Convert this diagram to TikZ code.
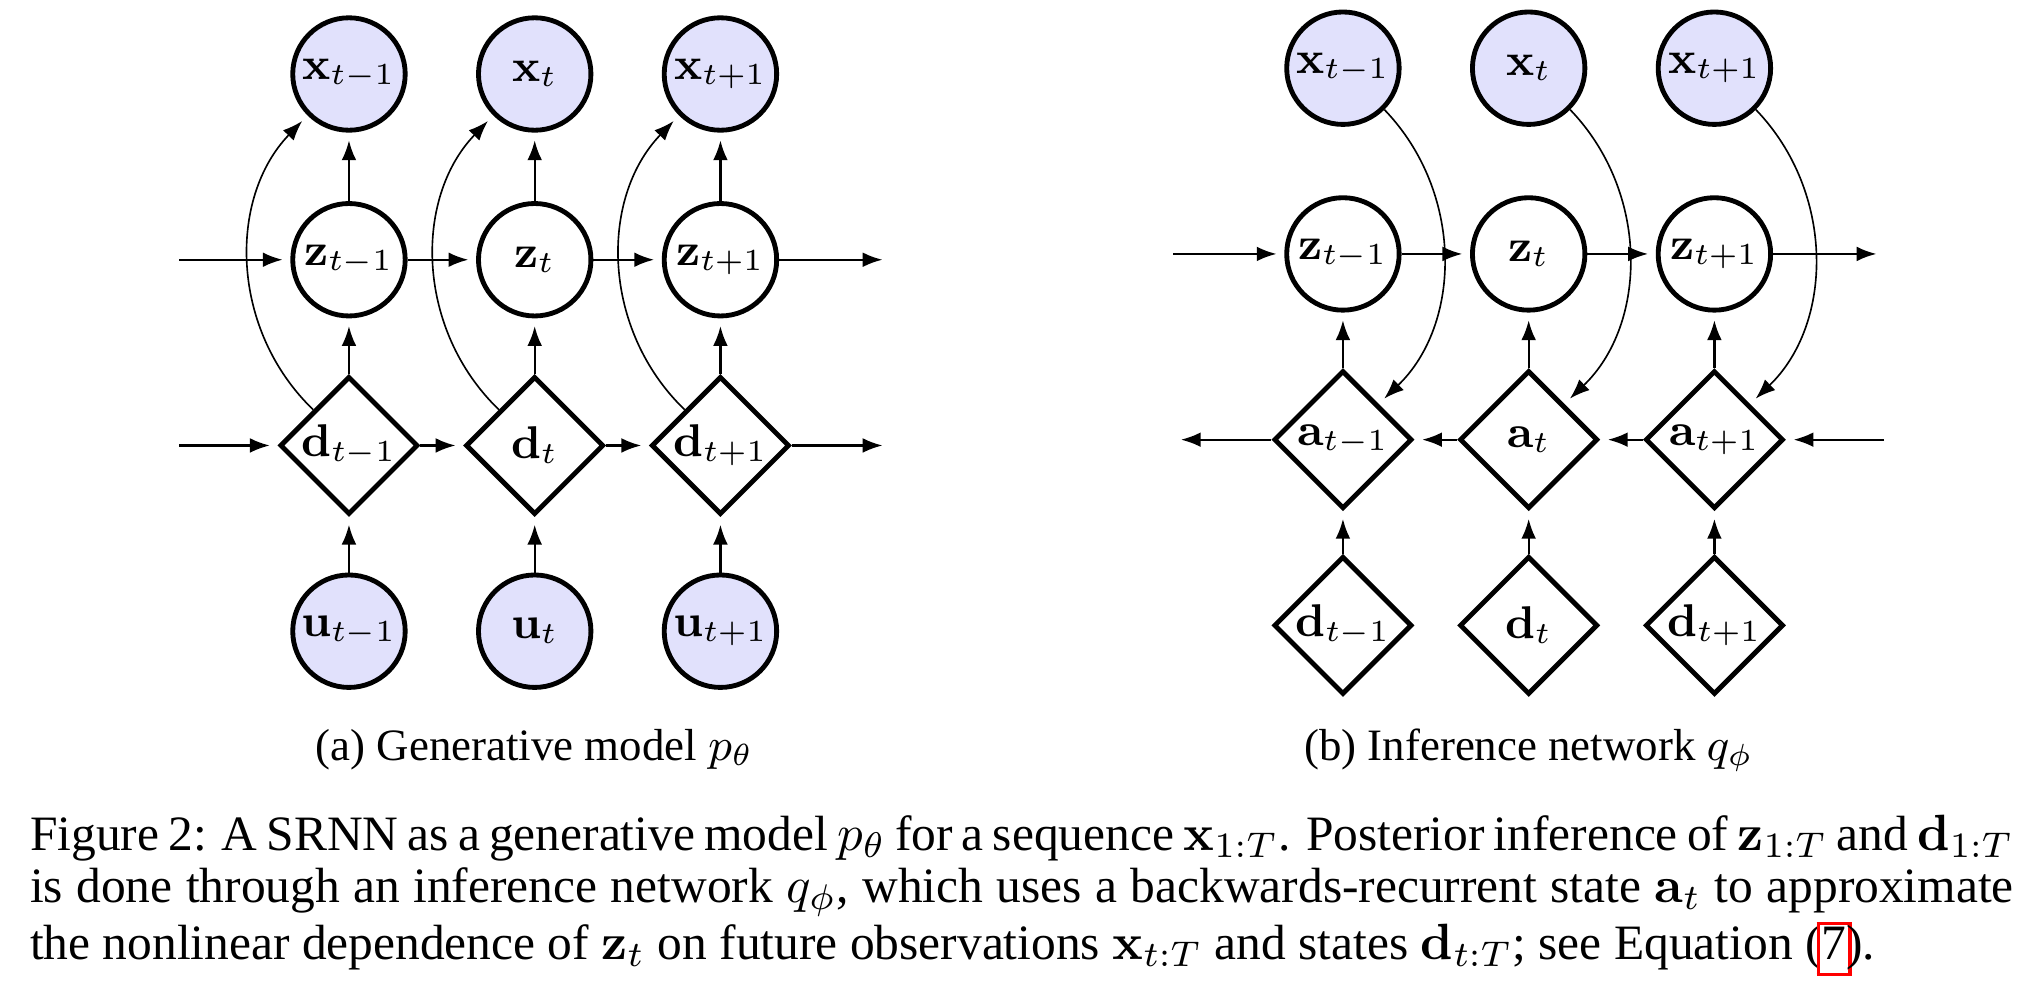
\documentclass[tikz,border=0pt]{standalone}
\usepackage{amsmath, amssymb, bm}
\usepackage[no-math]{fontspec}
\setmainfont{Liberation Serif}
\usepackage{xcolor}
\usepackage{tikz}
\usetikzlibrary{positioning, arrows.meta, shapes.geometric}
\definecolor{obsblue}{RGB}{225,225,252}
\newcommand{\linkbox}[1]{\hbox to 0.5em{\hss{\color{red}\fboxrule=0.6pt\fboxsep=0.4pt\fbox{\color{black}\rule[-2.3pt]{0pt}{7.8pt}#1}}\hss}}
\newcommand{\capfont}{\fontsize{9.7}{10.2}\selectfont}
\newcommand{\subcapfont}{\fontsize{8.8}{10}\selectfont}

\begin{document}
\begin{tikzpicture}[node distance=1.28cm and 1.28cm, on grid,
  latent/.style={circle, draw, line width=0.95pt, minimum size=0.775cm, inner sep=0pt, font=\small},
  obs/.style={latent, fill=obsblue},
  det/.style={diamond, draw, line width=0.95pt, minimum size=0.952cm, inner sep=0pt, font=\small},
  arr/.style={-{Latex[length=3.9pt, width=2.9pt]}, line width=0.45pt, shorten >=1.5pt},
  bendarr/.style={arr, line width=0.32pt}]
  \useasboundingbox (-2.405,-6.354) rectangle (11.654,0.510);
  % (a) generative model
  \node[obs] (x1) at (0,0) {$\mathbf{x}_{t-1}$};
  \node[obs, right=of x1] (x2) {$\mathbf{x}_t$};
  \node[obs, right=of x2] (x3) {$\mathbf{x}_{t+1}$};
  \node[latent, below=of x1] (z1) {$\mathbf{z}_{t-1}$};
  \node[latent, below=of x2] (z2) {$\mathbf{z}_t$};
  \node[latent, below=of x3] (z3) {$\mathbf{z}_{t+1}$};
  \node[det, below=of z1] (d1) {$\mathbf{d}_{t-1}$};
  \node[det, below=of z2] (d2) {$\mathbf{d}_t$};
  \node[det, below=of z3] (d3) {$\mathbf{d}_{t+1}$};
  \node[obs, below=of d1] (u1) {$\mathbf{u}_{t-1}$};
  \node[obs, below=of d2] (u2) {$\mathbf{u}_t$};
  \node[obs, below=of d3] (u3) {$\mathbf{u}_{t+1}$};
  \coordinate[left=1.17cm of z1] (zin);
  \coordinate[right=1.17cm of z3] (zout);
  \coordinate[left=1.17cm of d1] (din);
  \coordinate[right=1.17cm of d3] (dout);
  \draw[arr] (zin) -- (z1);
  \draw[arr] (z1) -- (z2);
  \draw[arr] (z2) -- (z3);
  \draw[arr] (z3) -- (zout);
  \draw[arr] (din) -- (d1);
  \draw[arr] (d1) -- (d2);
  \draw[arr] (d2) -- (d3);
  \draw[arr] (d3) -- (dout);
  \draw[arr] (z1) -- (x1);
  \draw[arr] (z2) -- (x2);
  \draw[arr] (z3) -- (x3);
  \draw[arr] (d1) -- (z1);
  \draw[arr] (d2) -- (z2);
  \draw[arr] (d3) -- (z3);
  \draw[arr] (u1) -- (d1);
  \draw[arr] (u2) -- (d2);
  \draw[arr] (u3) -- (d3);
  \draw[bendarr] (d1) to[bend left=45] (x1);
  \draw[bendarr] (d2) to[bend left=45] (x2);
  \draw[bendarr] (d3) to[bend left=45] (x3);
  \node[anchor=base, font=\subcapfont] (capa) at ([yshift=-0.89cm]u2.center) {(a) Generative model $p_\theta$};
  % (b) inference network
  \node[obs] (qx1) at (6.85,0.04) {$\mathbf{x}_{t-1}$};
  \node[obs, right=of qx1] (qx2) {$\mathbf{x}_t$};
  \node[obs, right=of qx2] (qx3) {$\mathbf{x}_{t+1}$};
  \node[latent, below=of qx1] (qz1) {$\mathbf{z}_{t-1}$};
  \node[latent, below=of qx2] (qz2) {$\mathbf{z}_t$};
  \node[latent, below=of qx3] (qz3) {$\mathbf{z}_{t+1}$};
  \node[det, below=of qz1] (qa1) {$\mathbf{a}_{t-1}$};
  \node[det, below=of qz2] (qa2) {$\mathbf{a}_t$};
  \node[det, below=of qz3] (qa3) {$\mathbf{a}_{t+1}$};
  \node[det, below=of qa1] (qd1) {$\mathbf{d}_{t-1}$};
  \node[det, below=of qa2] (qd2) {$\mathbf{d}_t$};
  \node[det, below=of qa3] (qd3) {$\mathbf{d}_{t+1}$};
  \coordinate[left=1.17cm of qz1] (qzin);
  \coordinate[right=1.17cm of qz3] (qzout);
  \coordinate[left=1.17cm of qa1] (qaout);
  \coordinate[right=1.17cm of qa3] (qain);
  \draw[arr] (qzin) -- (qz1);
  \draw[arr] (qz1) -- (qz2);
  \draw[arr] (qz2) -- (qz3);
  \draw[arr] (qz3) -- (qzout);
  \draw[arr] (qain) -- (qa3);
  \draw[arr] (qa3) -- (qa2);
  \draw[arr] (qa2) -- (qa1);
  \draw[arr] (qa1) -- (qaout);
  \draw[arr] (qa1) -- (qz1);
  \draw[arr] (qa2) -- (qz2);
  \draw[arr] (qa3) -- (qz3);
  \draw[arr] (qd1) -- (qa1);
  \draw[arr] (qd2) -- (qa2);
  \draw[arr] (qd3) -- (qa3);
  \draw[bendarr] (qx1) to[bend left=45] (qa1);
  \draw[bendarr] (qx2) to[bend left=45] (qa2);
  \draw[bendarr] (qx3) to[bend left=45] (qa3);
  \node[anchor=base, font=\subcapfont] (capb) at ([yshift=-0.93cm]qd2.center) {(b) Inference network $q_\phi$};
  % figure caption
  \node[anchor=base west, text width=389pt, align=justify, inner sep=0pt, font=\capfont] (fig) at (-2.205,-5.348)
    {Figure 2: A SRNN as a generative model $p_\theta$ for a sequence $\mathbf{x}_{1:T}$. Posterior inference of $\mathbf{z}_{1:T}$ and $\mathbf{d}_{1:T}$\linebreak
    is done through an inference network $q_\phi$, which uses a backwards-recurrent state $\mathbf{a}_t$ to approximate\linebreak
    the nonlinear dependence of $\mathbf{z}_t$ on future observations $\mathbf{x}_{t:T}$ and states $\mathbf{d}_{t:T}$; see Equation (\linkbox{7}).};
\end{tikzpicture}
\end{document}
